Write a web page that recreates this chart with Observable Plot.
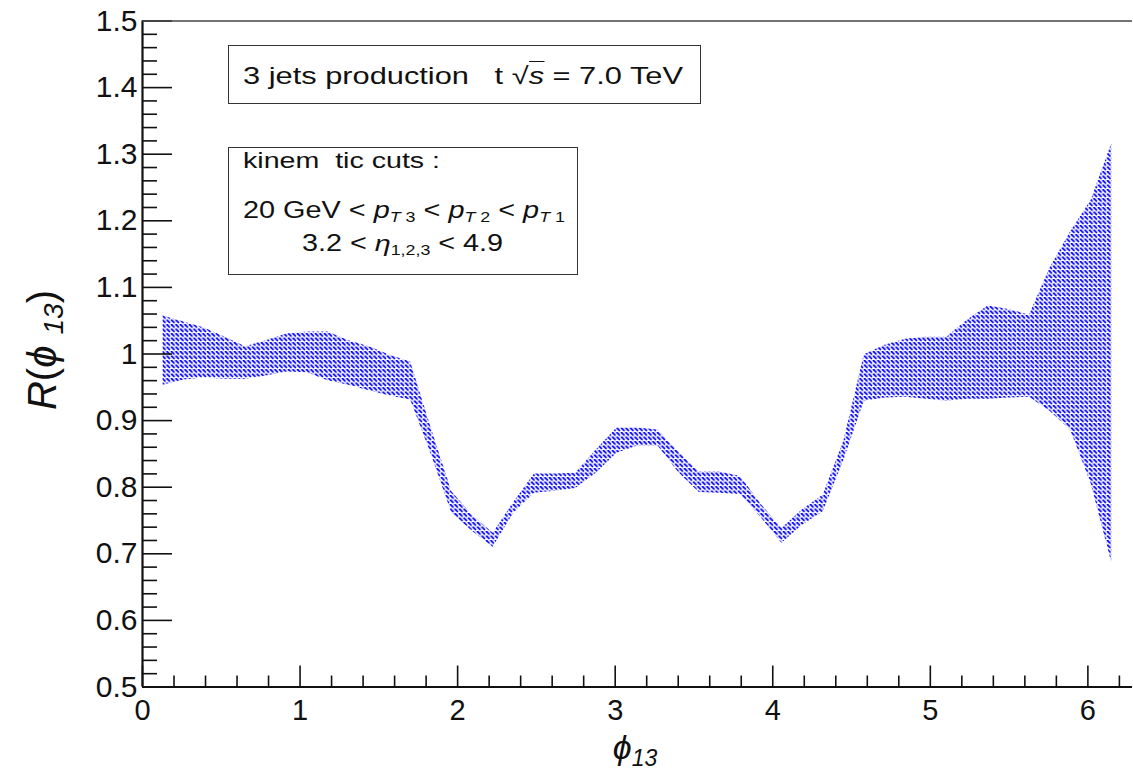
<!DOCTYPE html>
<html><head><meta charset="utf-8">
<script src="https://cdn.jsdelivr.net/npm/d3@7"></script>
<script src="https://cdn.jsdelivr.net/npm/@observablehq/plot@0.6"></script>
<style>
body{margin:0;background:#fff;}
#wrap{position:relative;width:1133px;height:773px;overflow:hidden;font-family:"Liberation Sans",Arial,sans-serif;}
.box{position:absolute;border:1.5px solid #333;box-sizing:border-box;}
.line{position:absolute;white-space:pre;transform-origin:0 0;color:#111;line-height:1;}
.line sub{font-size:0.62em;line-height:0;vertical-align:-0.3em;}
.ov{border-top:1.5px solid #111;}
</style></head><body><div id="wrap"></div>
<script>
// bin centres of phi_13 (radians)
const phi = [0.131,0.262,0.393,0.524,0.654,0.785,0.916,1.047,1.178,1.309,1.440,1.571,1.702,1.833,1.963,2.094,2.225,2.356,2.487,2.618,2.749,2.880,3.011,3.142,3.272,3.403,3.534,3.665,3.796,3.927,4.058,4.189,4.320,4.451,4.581,4.712,4.843,4.974,5.105,5.236,5.367,5.498,5.629,5.760,5.890,6.021,6.152];
const lower = [0.953,0.961,0.964,0.962,0.962,0.967,0.973,0.972,0.960,0.953,0.945,0.937,0.931,0.849,0.761,0.734,0.710,0.761,0.791,0.794,0.798,0.821,0.851,0.862,0.862,0.822,0.792,0.791,0.789,0.754,0.716,0.743,0.763,0.840,0.929,0.934,0.935,0.932,0.929,0.932,0.932,0.934,0.935,0.914,0.886,0.805,0.686];
const upper = [1.057,1.048,1.039,1.025,1.011,1.020,1.030,1.033,1.033,1.020,1.011,0.998,0.988,0.888,0.793,0.758,0.731,0.777,0.820,0.820,0.821,0.856,0.889,0.889,0.886,0.853,0.823,0.823,0.816,0.774,0.738,0.766,0.788,0.869,0.999,1.013,1.022,1.025,1.025,1.051,1.072,1.067,1.058,1.129,1.183,1.231,1.316];
const yMajor = [0.5,0.6,0.7,0.8,0.9,1,1.1,1.2,1.3,1.4,1.5];
const xMajor = [0,1,2,3,4,5,6];

const data = phi.map((x,i)=>({x, lo: lower[i], hi: upper[i]}));
const yMinor = d3.range(26,75).map(i=>i/50).filter(v=>Math.abs(v*10-Math.round(v*10))>1e-6);
const xMinor = d3.range(1,32).map(i=>i/5).filter(v=>Math.abs(v-Math.round(v))>1e-6);

const W=1133,H=773,mL=142,mR=1,mT=20.5,mB=86.5;
const plotW=W-mL-mR, plotH=H-mT-mB;
const ink="#111";
const chart = Plot.plot({
  width:W, height:H, marginLeft:mL, marginRight:mR, marginTop:mT, marginBottom:mB,
  style:{fontFamily:'"Liberation Sans", Arial, sans-serif', background:"transparent", color:ink},
  x:{domain:[0,2*Math.PI]}, y:{domain:[0.5,1.5]},
  marks:[
    Plot.areaY(data,{x:"x", y1:"lo", y2:"hi", fill:"url(#hatch)"}),
    Plot.tickY(yMinor,{y:d=>d, insetRight:plotW-15, stroke:ink, strokeWidth:1.6}),
    Plot.tickY(yMajor,{y:d=>d, insetRight:plotW-30, stroke:ink, strokeWidth:1.6}),
    Plot.tickX(xMinor,{x:d=>d, insetTop:plotH-11, stroke:ink, strokeWidth:1.6}),
    Plot.tickX(xMajor,{x:d=>d, insetTop:plotH-21, stroke:ink, strokeWidth:1.6}),
    Plot.ruleX([0],{stroke:ink, strokeWidth:2.2}),
    Plot.ruleY([0.5],{stroke:ink, strokeWidth:2.2}),
    Plot.ruleY([1.5],{stroke:"#444", strokeWidth:1.6}),
    Plot.axisY({ticks:yMajor, tickSize:0, tickPadding:5, fontSize:30, tickFormat:d=>String(d), label:null}),
    Plot.axisX({ticks:xMajor, tickSize:0, tickPadding:12, fontSize:29, tickFormat:d=>String(d), label:null})
  ]
});
const svg = d3.select(chart);
svg.insert("defs",":first-child").html(
  '<pattern id="hatch" width="4.5" height="4.5" patternUnits="userSpaceOnUse">'+
  '<rect width="4.5" height="4.5" fill="#ffffff"/>'+
  '<path d="M0.4,0.4L3,3" stroke="#0000ff" stroke-width="1.8" stroke-linecap="round"/>'+
  '<circle cx="3.9" cy="0.6" r="0.45" fill="#3333ff"/></pattern>');

// axis titles
const yt = svg.append("text").attr("transform","translate(56,350) rotate(-90)")
  .attr("text-anchor","middle").attr("font-size",40).attr("fill",ink);
yt.append("tspan").attr("font-style","italic").text("R");
yt.append("tspan").text("(");
yt.append("tspan").attr("font-style","italic").text("ϕ ");
yt.append("tspan").attr("font-style","italic").attr("font-size",28).attr("dy",7).text("13");
yt.append("tspan").attr("dy",-7).text(")");

const xt = svg.append("text").attr("x",635).attr("y",759).attr("text-anchor","middle")
  .attr("font-size",34).attr("fill",ink).attr("font-style","italic");
xt.append("tspan").text("ϕ");
xt.append("tspan").attr("font-size",23).attr("dy",7).text("13");

const wrap = document.getElementById("wrap");
wrap.appendChild(chart);
chart.style.position="absolute"; chart.style.left="0"; chart.style.top="0";

// annotation boxes
function box(l,t,w,h){const d=document.createElement("div");d.className="box";
  Object.assign(d.style,{left:l+"px",top:t+"px",width:w+"px",height:h+"px"});wrap.appendChild(d);}
box(228,45,473,59);
box(228,147,350,128);
function line(html,left,baseline,size,target){
  const d=document.createElement("div");d.className="line";d.innerHTML=html;
  d.style.fontSize=size+"px";d.style.left=left+"px";d.style.top=(baseline-0.8465*size)+"px";
  wrap.appendChild(d);
  const w=d.getBoundingClientRect().width;
  d.style.transform=`scaleX(${target/w})`;
}
line('3 jets production   t √<span class="ov"><i>s</i></span> = 7.0 TeV',243,84,24,440);
line('kinem  tic cuts :',243,169,22,197);
line('20 GeV &lt; <i>p</i><sub><i>T</i> 3</sub> &lt; <i>p</i><sub><i>T</i> 2</sub> &lt; <i>p</i><sub><i>T</i> 1</sub>',243,218,23,322);
line('3.2 &lt; <i>η</i><sub>1,2,3</sub> &lt; 4.9',302,251,23,201);
</script></body></html>
